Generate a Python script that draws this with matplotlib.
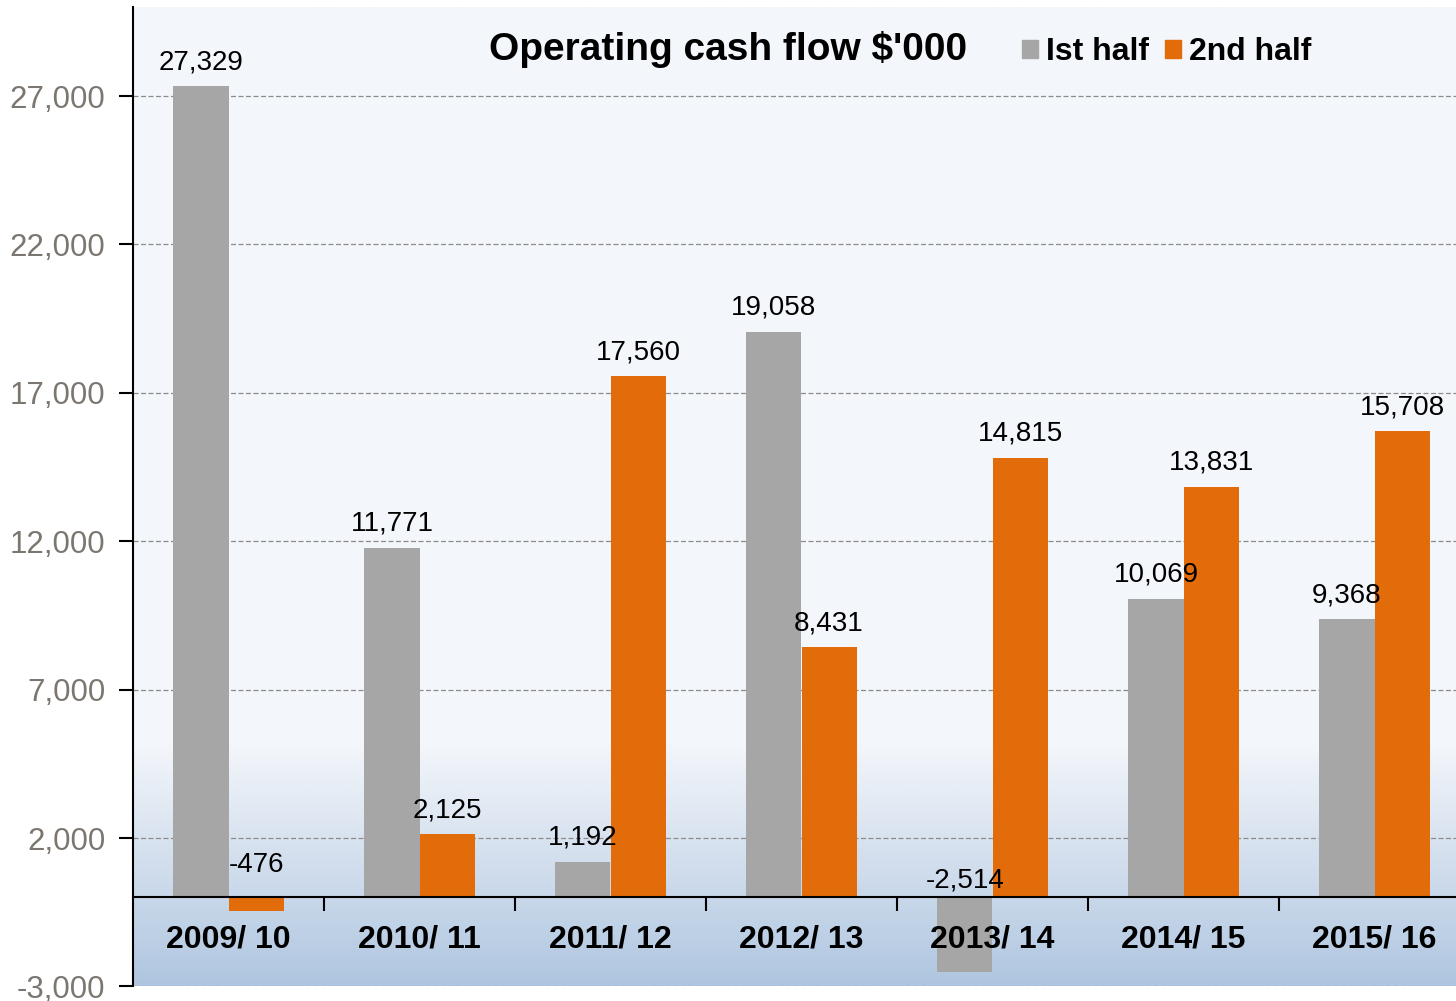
import matplotlib
matplotlib.use("Agg")
import matplotlib.pyplot as plt
import numpy as np
from matplotlib.colors import LinearSegmentedColormap
from matplotlib.ticker import FuncFormatter, FixedLocator
from matplotlib.patches import Patch

categories = ["2009/ 10", "2010/ 11", "2011/ 12", "2012/ 13", "2013/ 14", "2014/ 15", "2015/ 16"]
first_half = [27329, 11771, 1192, 19058, -2514, 10069, 9368]
second_half = [-476, 2125, 17560, 8431, 14815, 13831, 15708]
y_ticks = [-3000, 2000, 7000, 12000, 17000, 22000, 27000]
series_names = ["Ist half", "2nd half"]
title = "Operating cash flow $'000"

GRAY = "#A6A6A6"
ORANGE = "#E36C0A"

plt.rcParams['font.family'] = ['Liberation Sans', 'DejaVu Sans']

W, H = 1456, 1001
fig = plt.figure(figsize=(W / 100, H / 100), dpi=100)
left = 133 / W
right = 1470 / W
bottom = (H - 986.4) / H
top = (H - 7) / H
ax = fig.add_axes([left, bottom, right - left, top - bottom])

ax.set_xlim(-0.5, len(categories) - 0.5)
ax.set_ylim(-3000, 30000)

# gradient background
cmap = LinearSegmentedColormap.from_list(
    "bg", [(0.0, "#AFC6E0"), (0.091, "#C9D8EA"), (0.15, "#D9E3F0"),
           (0.245, "#F3F6FA"), (1.0, "#F4F7FB")])
grad = np.linspace(0, 1, 512).reshape(-1, 1)
ax.imshow(grad, cmap=cmap, origin="lower", extent=[0, 1, 0, 1],
          transform=ax.transAxes, aspect="auto", zorder=-2, interpolation="bilinear")
ax.set_facecolor("none")

x = np.arange(len(categories))
bw = 0.288
b1 = ax.bar(x - bw / 2, first_half, bw, color=GRAY, zorder=3, linewidth=0)
b2 = ax.bar(x + bw / 2, second_half, bw, color=ORANGE, zorder=3, linewidth=0)

for bars, vals in ((b1, first_half), (b2, second_half)):
    for rect, v in zip(bars, vals):
        cx = rect.get_x() + rect.get_width() / 2
        if v > 0:
            y, off = v, 8
        else:
            y, off = 0, (14 if v > -1000 else 3)
        ax.annotate(f"{v:,}", (cx, y), xytext=(0, off), textcoords="offset points",
                    ha="center", va="bottom", fontsize=20, color="black", zorder=5)

# y axis
ax.set_yticks(y_ticks)
ax.yaxis.set_major_formatter(FuncFormatter(lambda v, p: f"{int(v):,}"))
ax.tick_params(axis="y", direction="out", length=10, width=1.5, pad=10,
               labelsize=22.5, labelcolor="#7C7670", color="black")
ax.grid(axis="y", linestyle=(0, (4, 2)), color="#8C8C8C", linewidth=0.9, zorder=1)
ax.set_axisbelow(True)

# x axis at zero
ax.spines["bottom"].set_position(("data", 0))
ax.spines["bottom"].set_linewidth(1.5)
ax.spines["bottom"].set_zorder(4)
ax.spines["left"].set_linewidth(1.5)
ax.spines["top"].set_visible(False)
ax.spines["right"].set_visible(False)
ax.xaxis.set_major_locator(FixedLocator(np.arange(0.5, len(categories) - 0.5, 1)))
ax.xaxis.set_major_formatter(FuncFormatter(lambda v, p: ""))
ax.xaxis.set_minor_locator(FixedLocator(x))
ax.set_xticklabels(categories, minor=True)
ax.tick_params(axis="x", which="major", direction="out", length=10, width=1.5, color="black")
ax.tick_params(axis="x", which="minor", length=0, pad=19.5, labelsize=23)
for lbl in ax.get_xticklabels(minor=True):
    lbl.set_fontweight("bold")
ax.xaxis.set_zorder(4)

fig.text(728.5 / W, 1 - 49 / H, title, ha="center", va="center",
         fontsize=28, fontweight="bold", color="black")

handles = [Patch(color=GRAY), Patch(color=ORANGE)]
leg = fig.legend(handles, series_names, loc="center left",
                 bbox_to_anchor=(1022 / W, 1 - 52 / H), frameon=False, ncol=2,
                 handlelength=0.5, handleheight=0.5, handletextpad=0.25,
                 columnspacing=0.5, borderpad=0, borderaxespad=0,
                 prop={"weight": "bold", "size": 23, "family": "Liberation Sans"})

fig.savefig("out.png", dpi=100)
